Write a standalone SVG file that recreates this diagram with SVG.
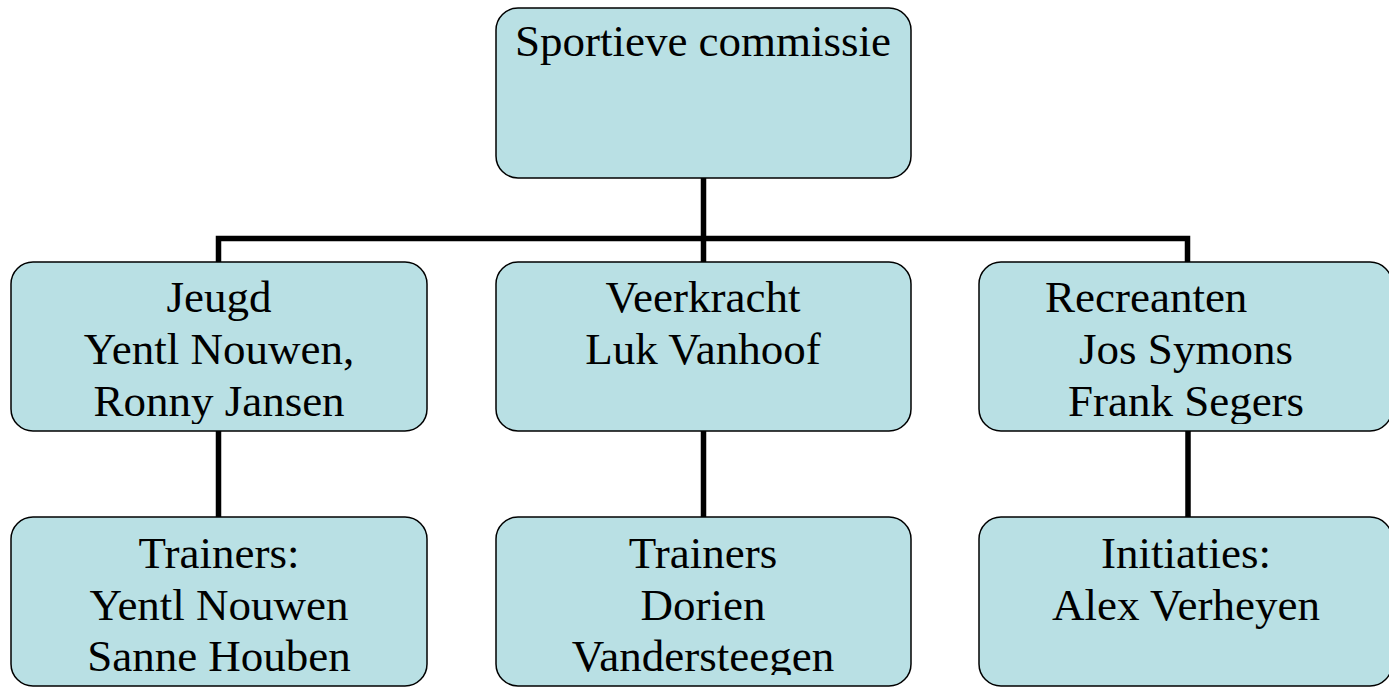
<svg xmlns="http://www.w3.org/2000/svg" width="1389" height="690" viewBox="0 0 1389 690">
<style>
.box{fill:#b9e0e4;stroke:#000;stroke-width:1.5}
.t{font-family:"Liberation Serif","Times New Roman",serif;font-size:45px;fill:#000;text-anchor:middle}
.c{fill:none;stroke:#000;stroke-width:5.5;stroke-linecap:square}
</style>
<defs>
<clipPath id="cj"><rect x="11" y="262" width="416" height="162"/></clipPath>
<clipPath id="cr"><rect x="979" y="262" width="413" height="162"/></clipPath>
<clipPath id="cv"><rect x="496" y="517" width="415" height="158"/></clipPath>
</defs>
<rect width="1389" height="690" fill="#fff"/>
<g id="connectors">
<path class="c" d="M703.5 179V238.5M218.5 261V238.5H1187.5V261M703.5 238.5V261"/>
<path class="c" d="M218.5 432V516M703.5 432V516M1188 432V516"/>
</g>
<g id="sportieve">
<rect class="box" x="496" y="8" width="415" height="170" rx="22"/>
<text class="t" x="703" y="56">Sportieve commissie</text>
</g>
<g id="jeugd">
<rect class="box" x="11" y="262" width="416" height="169" rx="22"/>
<g clip-path="url(#cj)">
<text class="t" x="219" y="312">Jeugd</text>
<text class="t" x="219" y="364">Yentl Nouwen,</text>
<text class="t" x="219" y="416">Ronny Jansen</text>
</g>
</g>
<g id="veerkracht">
<rect class="box" x="496" y="262" width="415" height="169" rx="22"/>
<text class="t" x="703" y="312">Veerkracht</text>
<text class="t" x="703" y="364">Luk Vanhoof</text>
</g>
<g id="recreanten">
<rect class="box" x="979" y="262" width="413" height="169" rx="22"/>
<g clip-path="url(#cr)">
<text class="t" x="1045" y="312" style="text-anchor:start">Recreanten</text>
<text class="t" x="1186" y="364">Jos Symons</text>
<text class="t" x="1186" y="416">Frank Segers</text>
</g>
</g>
<g id="trainers-jeugd">
<rect class="box" x="11" y="517" width="416" height="169" rx="22"/>
<text class="t" x="219" y="568">Trainers:</text>
<text class="t" x="219" y="620">Yentl Nouwen</text>
<text class="t" x="219" y="671">Sanne Houben</text>
</g>
<g id="trainers-veerkracht">
<rect class="box" x="496" y="517" width="415" height="169" rx="22"/>
<g clip-path="url(#cv)">
<text class="t" x="703" y="568">Trainers</text>
<text class="t" x="703" y="620">Dorien</text>
<text class="t" x="703" y="671">Vandersteegen</text>
</g>
</g>
<g id="initiaties">
<rect class="box" x="979" y="517" width="413" height="169" rx="22"/>
<text class="t" x="1186" y="568">Initiaties:</text>
<text class="t" x="1186" y="620">Alex Verheyen</text>
</g>
</svg>
